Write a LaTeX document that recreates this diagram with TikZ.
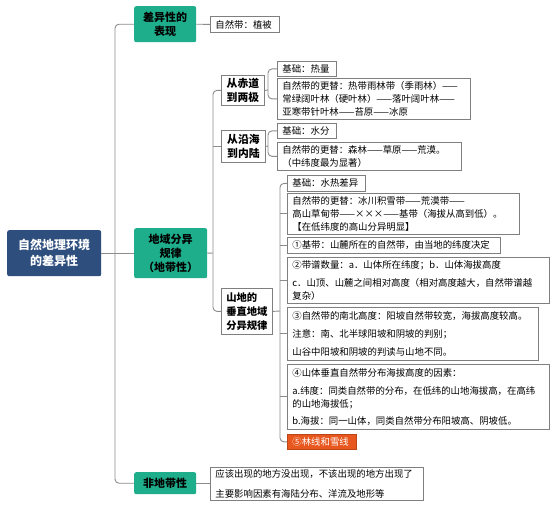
\documentclass[tikz,border=0pt]{standalone}
\usepackage{fontspec}
\setmainfont{Noto Sans CJK SC}
\definecolor{linegray}{HTML}{8C8C8C}
\definecolor{boxgray}{HTML}{7F7F7F}
\definecolor{teal1}{RGB}{30,174,140}
\definecolor{rootblue}{RGB}{46,78,126}
\definecolor{orange1}{RGB}{232,87,30}
\begin{document}
\begin{tikzpicture}[x=1pt,y=-1pt,
 conn/.style={draw=linegray, line width=0.9pt, rounded corners=4pt},
 leaf/.style={draw=boxgray, line width=0.8pt, fill=white, anchor=north west, inner xsep=5pt, inner ysep=0pt, align=left, font=\fontsize{9.4}{12.8}\selectfont},
 midbox/.style={draw=boxgray, line width=0.8pt, fill=white, anchor=north west, inner sep=0pt, align=center, font=\bfseries\fontsize{10.8}{14.5}\selectfont},
 lvlone/.style={fill=teal1, rounded corners=2pt, anchor=north west, inner sep=0pt, align=center, font=\bfseries\fontsize{11}{14.5}\selectfont},
]
\useasboundingbox[fill=white] (0,0) rectangle (555,506);

% root and level one
\node[fill=rootblue, rounded corners=2pt, anchor=north west, minimum width=94pt, minimum height=46pt, text=white, align=center, inner sep=0pt, font=\bfseries\fontsize{12}{16}\selectfont] (root) at (7,230) {自然地理环境\\的差异性};
\node[lvlone, minimum width=62pt, minimum height=36pt] (n1) at (134,6) {差异性的\\表现};
\node[lvlone, minimum width=73pt, minimum height=50pt, font=\bfseries\fontsize{11}{14}\selectfont] (n2) at (134,228) {地域分异\\规律\\（地带性）};
\node[lvlone, minimum width=62pt, minimum height=22pt] (n3) at (134,472) {非地带性};

% leaves of n1, n3
\node[leaf, text width=59pt, minimum height=16pt] (e1) at (210,16) {自然带：植被};
\node[leaf, text width=203pt, minimum height=33pt] (d1) at (210,467) {应该出现的地方没出现，不该出现的地方出现了\\[7pt]主要影响因素有海陆分布、洋流及地形等};

% level two
\node[midbox, minimum width=43pt, minimum height=30pt] (a1) at (221,75) {从赤道\\到两极};
\node[midbox, minimum width=44pt, minimum height=32pt] (a2) at (221,130) {从沿海\\到内陆};
\node[midbox, minimum width=51pt, minimum height=46pt, align=left, font=\bfseries\fontsize{10.3}{14}\selectfont] (a3) at (221,288) {山地的\\垂直地域\\分异规律};

% leaves of a1
\node[leaf, text width=49pt, minimum height=15pt] (b1) at (277,61) {基础：热量};
\node[leaf, text width=183pt, minimum height=41pt] (b2) at (277,78) {自然带的更替：热带雨林带（季雨林）——\\常绿阔叶林（硬叶林）——落叶阔叶林——\\亚寒带针叶林——苔原——冰原};
% leaves of a2
\node[leaf, text width=49pt, minimum height=15pt] (b3) at (277,123) {基础：水分};
\node[leaf, text width=174pt, minimum height=28pt] (b4) at (277,142) {自然带的更替：森林——草原——荒漠。\\（中纬度最为显著）};
% leaves of a3
\node[leaf, text width=68pt, minimum height=16pt] (c1) at (287,175) {基础：水热差异};
\node[leaf, text width=222pt, minimum height=41pt] (c2) at (287,193) {自然带的更替：冰川积雪带——荒漠带——\\高山草甸带——×××——基带（海拔从高到低）。\\【在低纬度的高山分异明显】};
\node[leaf, text width=203pt, minimum height=16pt] (c3) at (287,237) {①基带：山麓所在的自然带，由当地的纬度决定};
\node[leaf, text width=252pt, minimum height=46pt] (c4) at (287,257) {②带谱数量：a．山体所在纬度；b．山体海拔高度\\[6pt]c．山顶、山麓之间相对高度（相对高度越大，自然带谱越\\复杂）};
\node[leaf, text width=241pt, minimum height=53pt] (c5) at (287,307) {③自然带的南北高度：阳坡自然带较宽，海拔高度较高。\\[5.5pt]注意：南、北半球阳坡和阴坡的判别；\\[5.5pt]山谷中阳坡和阴坡的判读与山地不同。};
\node[leaf, text width=252pt, minimum height=65pt] (c6) at (287,364) {④山体垂直自然带分布海拔高度的因素：\\[5pt]a.纬度：同类自然带的分布，在低纬的山地海拔高，在高纬\\的山地海拔低；\\[4.5pt]b.海拔：同一山体，同类自然带分布阳坡高、阴坡低。};
\node[leaf, draw=orange1!80!black, fill=orange1, text=white, text width=59pt, minimum height=15pt] (c7) at (287,434) {⑤林线和雪线};

% connectors
\coordinate (j0) at (115,253);
\coordinate (j1) at (213,253);
\coordinate (j2) at (268,90);
\coordinate (j3) at (268,146);
\coordinate (j4) at (280,311);

\draw[conn] (root.east) -- (n2.west);
\draw[conn] (n1.west) -| (j0) |- (n3.west);
\draw[conn] (n1.east) -- (e1.west);
\draw[conn] (n3.east) -- (n3.east -| d1.west);

\draw[conn] (n2.east) -- (j1);
\draw[conn] (a1.west) -| (j1) |- (a3.west);
\draw[conn] (a2.west) -- (a2.west -| j1);

\draw[conn] (a1.east) -- (j2);
\draw[conn] (b1.west) -| (j2) |- (b2.west);
\draw[conn] (a2.east) -- (j3);
\draw[conn] (b3.west) -| (j3) |- (b4.west);

\draw[conn] (a3.east) -- (j4);
\draw[conn] (c1.west) -| (j4) |- (c7.west);
\foreach \c in {c2,c3,c4,c5,c6} {\draw[conn] (\c.west) -- (\c.west -| j4);}
\end{tikzpicture}
\end{document}
